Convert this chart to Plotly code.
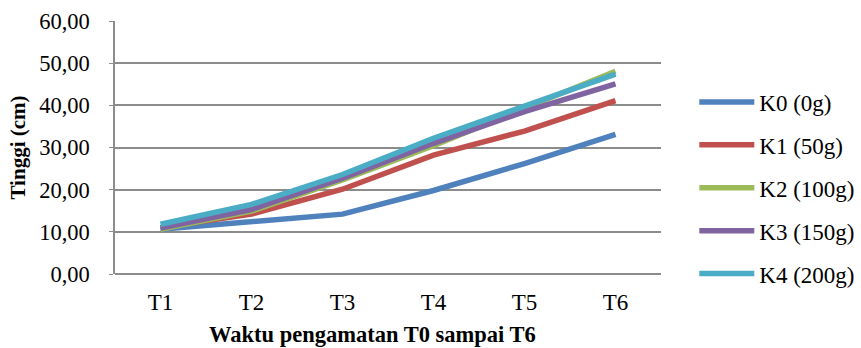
import plotly.graph_objects as go

categories = ["T1", "T2", "T3", "T4", "T5", "T6"]
series_names = ["K0 (0g)", "K1 (50g)", "K2 (100g)", "K3 (150g)", "K4 (200g)"]
k0 = [10.6, 12.4, 14.2, 19.8, 26.2, 33.1]
k1 = [11.0, 14.2, 20.1, 28.2, 33.9, 41.1]
k2 = [10.6, 14.9, 22.3, 30.4, 39.3, 48.1]
k3 = [10.9, 15.3, 22.7, 31.0, 38.5, 45.1]
k4 = [11.8, 16.5, 23.6, 32.2, 39.8, 47.4]
colors = ["#4F81BD", "#C0504D", "#9BBB59", "#8064A2", "#4BACC6"]
y_ticks = [0, 10, 20, 30, 40, 50, 60]

FONT = "Liberation Serif"

fig = go.Figure()
for i, (name, vals) in enumerate(zip(series_names, [k0, k1, k2, k3, k4])):
    fig.add_trace(go.Scatter(
        x=categories, y=vals, name=name, mode="lines",
        line=dict(color=colors[i], width=5.5),
        legendgroup=f"g{i}",
    ))

fig.add_annotation(
    text="<b>Waktu pengamatan T0 sampai T6</b>",
    xref="paper", yref="paper", x=0.4707, y=-0.238,
    xanchor="center", yanchor="middle", showarrow=False,
    font=dict(family=FONT, size=22.5, color="black"),
)

fig.update_layout(
    width=861, height=348,
    margin=dict(l=115, r=200, t=21, b=74, autoexpand=False),
    paper_bgcolor="white", plot_bgcolor="white",
    separators=",.",
    font=dict(family=FONT, size=23, color="black"),
    showlegend=True,
    legend=dict(
        x=1.061, xanchor="left", y=0.34, yanchor="middle",
        font=dict(family=FONT, size=23, color="black"),
        traceorder="grouped", tracegroupgap=10, itemwidth=55,
        bgcolor="rgba(0,0,0,0)",
    ),
    xaxis=dict(
        type="category", range=[-0.5, 5.5], automargin=False,
        showgrid=False, zeroline=False,
        showline=False, ticks="", ticklabelstandoff=12,
        tickfont=dict(family=FONT, size=23, color="black"),
    ),
    yaxis=dict(
        range=[0, 60], tickvals=y_ticks, tickformat=".2f", automargin=False,
        showgrid=True, gridcolor="#8c8c8c", gridwidth=1.5,
        zeroline=True, zerolinecolor="#8c8c8c", zerolinewidth=1.5,
        showline=True, linecolor="#8c8c8c", linewidth=1.5,
        ticks="outside", ticklen=4, tickcolor="#8c8c8c", ticklabelstandoff=15,
        tickfont=dict(family=FONT, size=22.5, color="black"),
        title=dict(text="<b>Tinggi (cm)</b>",
                   font=dict(family=FONT, size=21, color="black"), standoff=8),
    ),
)

fig.write_html("out.html", config={"displayModeBar": False},
               post_script="document.body.style.margin='0';")
